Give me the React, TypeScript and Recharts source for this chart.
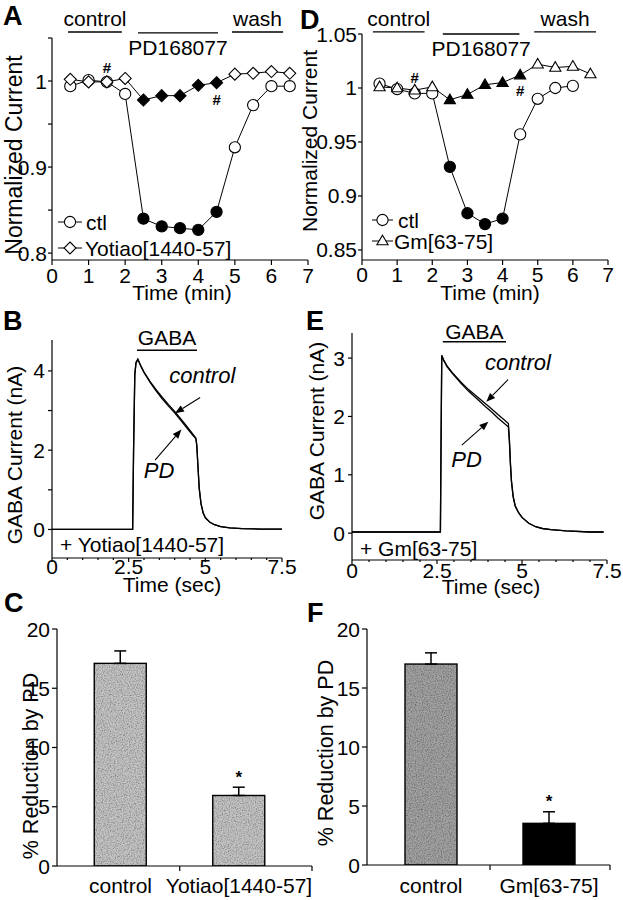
import React from 'react';
import {
  LineChart,
  Line,
  XAxis,
  YAxis,
  ReferenceLine,
  ReferenceDot,
  BarChart,
  Bar,
  ErrorBar,
  LabelList,
} from 'recharts';

const FONT = '"Liberation Sans", Arial, Helvetica, sans-serif';
const W = 623;
const H = 900;
const XH = 30;

// ---------- Panel A data ----------
const timeA = [0.5, 1, 1.5, 2, 2.5, 3, 3.5, 4, 4.5, 5, 5.5, 6, 6.5];
const ctlA = [0.994, 1.001, 0.999, 0.985, 0.84, 0.831, 0.829, 0.827, 0.848, 0.923, 0.972, 0.994, 0.994];
const ctlAFilled = [false, false, false, false, true, true, true, true, true, false, false, false, false];
const yotA = [1.002, 0.999, 0.999, 1.003, 0.978, 0.983, 0.983, 0.995, 0.998, 1.008, 1.009, 1.011, 1.009];
const yotAFilled = [false, false, false, false, true, true, true, true, true, false, false, false, false];
const periodsA = [
  { label: 'control', from: 0.44, to: 1.91, level: 1.057, text: 'above' },
  { label: 'PD168077', from: 2.35, to: 4.54, level: 1.056, text: 'below' },
  { label: 'wash', from: 4.92, to: 6.32, level: 1.057, text: 'above' },
];
const hashA = [
  { t: 1.5, v: 0.999, side: 'above' },
  { t: 4.5, v: 0.998, side: 'below' },
];

// ---------- Panel D data ----------
const timeD = [0.5, 1, 1.5, 2, 2.5, 3, 3.5, 4, 4.5, 5, 5.5, 6, 6.5];
const ctlD = [1.004, 0.999, 0.995, 0.995, 0.927, 0.884, 0.874, 0.879, 0.957, 0.99, 1.0, 1.002, null];
const ctlDFilled = [false, false, false, false, true, true, true, true, false, false, false, false, false];
const gmD = [1.001, 1.0, 0.998, 1.001, 0.989, 0.994, 1.003, 1.005, 1.012, 1.022, 1.019, 1.02, 1.013];
const gmDFilled = [false, false, false, false, true, true, true, true, true, false, false, false, false];
const periodsD = [
  { label: 'control', from: 0.31, to: 1.78, level: 1.052, text: 'above' },
  { label: 'PD168077', from: 2.3, to: 4.48, level: 1.05, text: 'below' },
  { label: 'wash', from: 4.9, to: 6.66, level: 1.052, text: 'above' },
];
const hashD = [
  { t: 1.5, v: 0.998, side: 'above' },
  { t: 4.5, v: 1.012, side: 'below' },
];

// ---------- Panel B data ----------
const timeB = [0, 2.63, 2.66, 2.7, 2.74, 2.8, 2.9, 3.0, 3.2, 3.4, 3.6, 3.8, 4.0, 4.2, 4.4, 4.6, 4.69, 4.72, 4.76, 4.8, 4.86, 4.93, 5.0, 5.15, 5.3, 5.5, 5.8, 6.2, 6.8, 7.5];
const ctlB = [0, 0, 2.0, 3.9, 4.2, 4.28, 4.12, 3.97, 3.73, 3.52, 3.33, 3.15, 2.98, 2.79, 2.6, 2.4, 2.31, 2.15, 1.6, 1.05, 0.65, 0.42, 0.3, 0.18, 0.12, 0.07, 0.04, 0.02, 0.01, 0.01];
const pdB = [0, 0, 2.0, 3.92, 4.22, 4.3, 4.12, 3.96, 3.71, 3.49, 3.29, 3.11, 2.94, 2.75, 2.56, 2.37, 2.29, 2.12, 1.58, 1.03, 0.64, 0.41, 0.29, 0.18, 0.12, 0.07, 0.04, 0.02, 0.01, 0.01];
const gabaB = { label: 'GABA', from: 2.77, to: 4.73, level: 4.52 };
const arrowsB = [
  { from: [4.83, 3.33], to: [4.01, 2.93] },
  { from: [3.36, 1.75], to: [4.22, 2.52] },
];
const notesB = [
  { label: 'control', t: 4.9, v: 3.69 },
  { label: 'PD', t: 3.49, v: 1.29 },
];

// ---------- Panel E data ----------
const timeE = [0, 2.6, 2.62, 2.64, 2.7, 2.8, 2.95, 3.2, 3.43, 3.7, 3.92, 4.1, 4.3, 4.5, 4.6, 4.63, 4.66, 4.69, 4.74, 4.8, 4.9, 5.0, 5.2, 5.4, 5.6, 5.85, 6.3, 7.0, 7.4];
const ctlE = [0.02, 0.02, 1.6, 3.04, 2.96, 2.86, 2.75, 2.59, 2.46, 2.33, 2.22, 2.13, 2.03, 1.93, 1.88, 1.6, 1.2, 0.9, 0.63, 0.47, 0.35, 0.27, 0.17, 0.11, 0.08, 0.06, 0.04, 0.02, 0.02];
const pdE = [0.02, 0.02, 1.6, 3.05, 2.96, 2.85, 2.74, 2.57, 2.43, 2.29, 2.17, 2.08, 1.97, 1.87, 1.82, 1.56, 1.17, 0.88, 0.62, 0.46, 0.35, 0.27, 0.17, 0.11, 0.08, 0.06, 0.04, 0.02, 0.02];
const gabaE = { label: 'GABA', from: 2.67, to: 4.53, level: 3.28 };
const arrowsE = [
  { from: [4.59, 2.63], to: [3.95, 2.25] },
  { from: [3.23, 1.51], to: [4.01, 1.91] },
];
const notesE = [
  { label: 'control', t: 4.88, v: 2.8 },
  { label: 'PD', t: 3.37, v: 1.14 },
];

// ---------- Panels C / F data ----------
const catsC = ['control', 'Yotiao[1440-57]'];
const valsC = [17.1, 5.95];
const errsC = [1.05, 0.7];
const starsC = ['', '*'];
const catsF = ['control', 'Gm[63-75]'];
const valsF = [17.03, 3.53];
const errsF = [0.95, 0.98];
const starsF = ['', '*'];

// ---------- layout ----------
type Plot = { l: number; r: number; t: number; b: number };
const PA: Plot = { l: 52, r: 308, t: 38, b: 260 };
const PD: Plot = { l: 362, r: 608, t: 34, b: 260 };
const PB: Plot = { l: 52, r: 282, t: 340, b: 558 };
const PE: Plot = { l: 352, r: 607, t: 333, b: 560 };
const PC: Plot = { l: 57, r: 312, t: 629, b: 866 };
const PF: Plot = { l: 367, r: 610, t: 629, b: 865 };

const marginFor = (P: Plot) => ({ top: P.t, right: W - P.r, bottom: H - P.b - XH, left: 0 });
const AX = { stroke: '#000', strokeWidth: 1.2 };

const xTick = (P: Plot, fs: number, base: number, len: (v: number) => number, fmt: (v: number) => string) =>
  (props: any) => {
    const { x, payload } = props;
    const v = payload.value;
    const L = len(v);
    return (
      <g>
        {L > 0 && <line x1={x} x2={x} y1={P.b} y2={P.b + L} stroke="#000" strokeWidth={1.2} />}
        <text x={x} y={P.b + base} textAnchor="middle" fontSize={fs} fill="#000">{fmt(v)}</text>
      </g>
    );
  };

const yTick = (P: Plot, fs: number, gap: number, len: (v: number) => number, fmt: (v: number) => string) =>
  (props: any) => {
    const { y, payload } = props;
    const v = payload.value;
    const L = len(v);
    return (
      <g>
        {L > 0 && <line x1={P.l - L} x2={P.l} y1={y} y2={y} stroke="#000" strokeWidth={1.2} />}
        <text x={P.l - gap} y={y} dominantBaseline="central" textAnchor="end" fontSize={fs} fill="#000">{fmt(v)}</text>
      </g>
    );
  };

// ---------- markers ----------
const circleMark = (cx: number, cy: number, filled: boolean, key?: any) => (
  <circle key={key} cx={cx} cy={cy} r={5.6} fill={filled ? '#000' : '#fff'} stroke="#000" strokeWidth={1.1} />
);
const diamondMark = (cx: number, cy: number, filled: boolean, key?: any) => (
  <polygon key={key} points={`${cx},${cy - 6} ${cx + 6},${cy} ${cx},${cy + 6} ${cx - 6},${cy}`} fill={filled ? '#000' : '#fff'} stroke="#000" strokeWidth={1.1} />
);
const triangleMark = (cx: number, cy: number, filled: boolean, key?: any) => (
  <polygon key={key} points={`${cx},${cy - 5.8} ${cx + 5.6},${cy + 3.8} ${cx - 5.6},${cy + 3.8}`} fill={filled ? '#000' : '#fff'} stroke="#000" strokeWidth={1.1} />
);

const dotFn = (mark: typeof circleMark, filled: boolean[]) => (props: any) => {
  const { cx, cy, index } = props;
  if (cx == null || cy == null || props.value == null) return <g key={`e${index}`} />;
  return mark(cx, cy, filled[index], `d${index}`);
};

// ---------- annotation shapes ----------
const periodShape = (label: string, where: string) => (p: any) => {
  const cx = (p.x1 + p.x2) / 2;
  return (
    <g>
      <line x1={p.x1} y1={p.y1} x2={p.x2} y2={p.y2} stroke="#000" strokeWidth={1.3} />
      <text x={cx} y={where === 'above' ? p.y1 - 6 : p.y1 + 22} textAnchor="middle" fontSize={21} fill="#000">
        {label}
      </text>
    </g>
  );
};

const gabaShape = (label: string, gap: number) => (p: any) => {
  const cx = (p.x1 + p.x2) / 2;
  return (
    <g>
      <line x1={p.x1} y1={p.y1} x2={p.x2} y2={p.y2} stroke="#000" strokeWidth={1.4} />
      <text x={cx} y={p.y1 - gap} textAnchor="middle" fontSize={21} fill="#000">{label}</text>
    </g>
  );
};

const arrowShape = (p: any) => {
  const { x1, y1, x2, y2 } = p;
  const ang = Math.atan2(y2 - y1, x2 - x1);
  const hl = 9;
  const hw = 3.6;
  const bx = x2 - hl * Math.cos(ang);
  const by = y2 - hl * Math.sin(ang);
  const px = -Math.sin(ang) * hw;
  const py = Math.cos(ang) * hw;
  return (
    <g>
      <line x1={x1} y1={y1} x2={bx} y2={by} stroke="#000" strokeWidth={1.1} />
      <polygon points={`${x2},${y2} ${bx + px},${by + py} ${bx - px},${by - py}`} fill="#000" />
    </g>
  );
};

const noteShape = (label: string) => (p: any) => (
  <text x={p.cx} y={p.cy} textAnchor="middle" fontSize={22} fontStyle="italic" fill="#000">{label}</text>
);

const hashShape = (side: string, up: number, down: number) => (p: any) => (
  <text x={p.cx} y={side === 'above' ? p.cy - up : p.cy + down} textAnchor="middle" dominantBaseline="central" fontSize={15} fontWeight="bold" fill="#000">#</text>
);

// ---------- Panel A ----------
const rowsA = timeA.map((t, i) => ({ t, ctl: ctlA[i], yot: yotA[i] }));
function PanelA() {
  return (
    <LineChart width={W} height={H} data={rowsA} margin={marginFor(PA)}>
      <XAxis type="number" dataKey="t" domain={[0, 7]} ticks={[0, 1, 2, 3, 4, 5, 6, 7]} interval={0} allowDataOverflow height={XH}
        axisLine={AX} tickLine={false} tickSize={0} tick={xTick(PA, 21, 22.5, () => 5, (v) => String(v))} />
      <YAxis type="number" domain={[0.792, 1.05]} ticks={[0.8, 0.85, 0.9, 0.95, 1, 1.05]} interval={0} allowDataOverflow width={PA.l}
        axisLine={AX} tickLine={false} tickSize={0}
        tick={yTick(PA, 21, 5, () => 4, (v) => ([0.8, 0.9, 1].includes(v) ? String(v) : ''))} />
      {periodsA.map((p, i) => (
        <ReferenceLine key={`pa${i}`} ifOverflow="visible" segment={[{ x: p.from, y: p.level }, { x: p.to, y: p.level }]}
          shape={periodShape(p.label, p.text)} />
      ))}
      <Line dataKey="ctl" stroke="#000" strokeWidth={1} isAnimationActive={false} dot={dotFn(circleMark, ctlAFilled)} activeDot={false} />
      <Line dataKey="yot" stroke="#000" strokeWidth={1} isAnimationActive={false} dot={dotFn(diamondMark, yotAFilled)} activeDot={false} />
      {hashA.map((h, i) => (
        <ReferenceDot key={`ha${i}`} x={h.t} y={h.v} r={0} ifOverflow="visible" shape={hashShape(h.side, 14, 17)} />
      ))}
    </LineChart>
  );
}

// ---------- Panel D ----------
const rowsD = timeD.map((t, i) => ({ t, ctl: ctlD[i], gm: gmD[i] }));
function PanelD() {
  return (
    <LineChart width={W} height={H} data={rowsD} margin={marginFor(PD)}>
      <XAxis type="number" dataKey="t" domain={[0, 7]} ticks={[0, 1, 2, 3, 4, 5, 6, 7]} interval={0} allowDataOverflow height={XH}
        axisLine={AX} tickLine={false} tickSize={0} tick={xTick(PD, 21, 22, () => 5, (v) => String(v))} />
      <YAxis type="number" domain={[0.8407, 1.05]} ticks={[0.85, 0.9, 0.95, 1, 1.05]} interval={0} allowDataOverflow width={PD.l}
        axisLine={AX} tickLine={false} tickSize={0} tick={yTick(PD, 21, 5, () => 4, (v) => String(v))} />
      {periodsD.map((p, i) => (
        <ReferenceLine key={`pd${i}`} ifOverflow="visible" segment={[{ x: p.from, y: p.level }, { x: p.to, y: p.level }]}
          shape={periodShape(p.label, p.text)} />
      ))}
      <Line dataKey="ctl" stroke="#000" strokeWidth={1} isAnimationActive={false} dot={dotFn(circleMark, ctlDFilled)} activeDot={false} />
      <Line dataKey="gm" stroke="#000" strokeWidth={1} isAnimationActive={false} dot={dotFn(triangleMark, gmDFilled)} activeDot={false} />
      {hashD.map((h, i) => (
        <ReferenceDot key={`hd${i}`} x={h.t} y={h.v} r={0} ifOverflow="visible" shape={hashShape(h.side, 13, 15)} />
      ))}
    </LineChart>
  );
}

// ---------- Trace panels ----------
function TracePanel(props: {
  P: Plot; time: number[]; ctl: number[]; pd: number[]; ydom: [number, number]; yticks: number[];
  ylab: (v: number) => string; gaba: { label: string; from: number; to: number; level: number }; gabaGap: number;
  arrows: { from: number[]; to: number[] }[]; notes: { label: string; t: number; v: number }[]; xbase: number;
}) {
  const { P } = props;
  const rows = props.time.map((t, i) => ({ t, ctl: props.ctl[i], pd: props.pd[i] }));
  const xt = [0, 0.5, 1, 1.5, 2, 2.5, 3, 3.5, 4, 4.5, 5, 5.5, 6, 6.5, 7, 7.5];
  return (
    <LineChart width={W} height={H} data={rows} margin={marginFor(P)}>
      <XAxis type="number" dataKey="t" domain={[0, 7.5]} ticks={xt} interval={0} allowDataOverflow height={XH}
        axisLine={AX} tickLine={false} tickSize={0}
        tick={xTick(P, 21, props.xbase, (v) => (v % 2.5 === 0 ? 4 : 2), (v) => (v % 2.5 === 0 ? String(v) : ''))} />
      <YAxis type="number" domain={props.ydom} ticks={props.yticks} interval={0} allowDataOverflow width={P.l}
        axisLine={AX} tickLine={false} tickSize={0} tick={yTick(P, 21, 7, () => 4, props.ylab)} />
      <ReferenceLine ifOverflow="visible" segment={[{ x: props.gaba.from, y: props.gaba.level }, { x: props.gaba.to, y: props.gaba.level }]}
        shape={gabaShape(props.gaba.label, props.gabaGap)} />
      <Line dataKey="ctl" stroke="#000" strokeWidth={1.3} isAnimationActive={false} dot={false} activeDot={false} />
      <Line dataKey="pd" stroke="#000" strokeWidth={1.3} isAnimationActive={false} dot={false} activeDot={false} />
      {props.arrows.map((a, i) => (
        <ReferenceLine key={`ar${i}`} ifOverflow="visible" segment={[{ x: a.from[0], y: a.from[1] }, { x: a.to[0], y: a.to[1] }]} shape={arrowShape} />
      ))}
      {props.notes.map((n, i) => (
        <ReferenceDot key={`nt${i}`} x={n.t} y={n.v} r={0} ifOverflow="visible" shape={noteShape(n.label)} />
      ))}
    </LineChart>
  );
}

// ---------- Bar panels ----------
function BarPanel(props: {
  id: string; P: Plot; cats: string[]; vals: number[]; errs: number[]; stars: string[]; fills: string[]; grain: boolean[];
  padL: number; padR: number; base: number;
}) {
  const { P } = props;
  const rows = props.cats.map((c, i) => ({ name: c, value: props.vals[i], err: [0, props.errs[i]], star: props.stars[i] }));
  const bw = (P.r - P.l - props.padL - props.padR) / props.cats.length;
  const catTick = (tp: any) => {
    const { x, payload, index } = tp;
    const bx = index === props.cats.length - 1 ? x + bw / 2 + props.padR : x + bw / 2;
    return (
      <g>
        <line x1={bx} x2={bx} y1={P.b} y2={P.b + 5} stroke="#000" strokeWidth={1.2} />
        <text x={x} y={P.b + props.base} textAnchor="middle" fontSize={21} fill="#000">{payload.value}</text>
      </g>
    );
  };
  const starLabel = (lp: any) => {
    const { x, y, width, height, index } = lp;
    const s = props.stars[index];
    if (!s) return <g />;
    const ppu = height / props.vals[index];
    const top = y - props.errs[index] * ppu;
    return (
      <text x={x + width / 2} y={top - 10} textAnchor="middle" dominantBaseline="central" fontSize={17} fontWeight="bold" fill="#000">{s}</text>
    );
  };
  const barShape = (bp: any) => {
    const { x, y, width, height, index } = bp;
    const fid = `grain-${props.id}-${index}`;
    return (
      <g>
        {props.grain[index] && (
          <defs>
            <filter id={fid} x="0" y="0" width="100%" height="100%">
              <feTurbulence type="fractalNoise" baseFrequency="0.85" numOctaves={2} seed={index + 3} result="n" />
              <feColorMatrix in="n" type="matrix"
                values="0 0 0 0 0  0 0 0 0 0  0 0 0 0 0  1.3 0 0 0 -0.5" result="a" />
              <feComposite in="a" in2="SourceGraphic" operator="in" result="speck" />
              <feMerge>
                <feMergeNode in="SourceGraphic" />
                <feMergeNode in="speck" />
              </feMerge>
            </filter>
          </defs>
        )}
        <rect x={x} y={y} width={width} height={height} fill={props.fills[index]}
          filter={props.grain[index] ? `url(#${fid})` : undefined} />
        <rect x={x} y={y} width={width} height={height} fill="none" stroke="#000" strokeWidth={1.4} />
      </g>
    );
  };
  return (
    <BarChart width={W} height={H} data={rows} margin={marginFor(P)}>
      <XAxis type="category" dataKey="name" height={XH} padding={{ left: props.padL, right: props.padR }} interval={0}
        axisLine={AX} tickLine={false} tickSize={0} tick={catTick} />
      <YAxis type="number" domain={[0, 20]} ticks={[0, 5, 10, 15, 20]} interval={0} allowDataOverflow width={P.l}
        axisLine={AX} tickLine={false} tickSize={0} tick={yTick(P, 21, 7, () => 5, (v) => String(v))} />
      <Bar dataKey="value" barSize={52} isAnimationActive={false} shape={barShape}>
        <ErrorBar dataKey="err" width={6} strokeWidth={1.5} stroke="#000" direction="y" />
        <LabelList dataKey="star" content={starLabel} />
      </Bar>
    </BarChart>
  );
}

const Layer = ({ children }: { children: React.ReactNode }) => (
  <div style={{ position: 'absolute', left: 0, top: 0, width: W, height: H }}>{children}</div>
);

function Overlay() {
  const letter = (x: number, y: number, s: string) => (
    <text x={x} y={y} fontSize={27} fontWeight="bold" fill="#000">{s}</text>
  );
  const vtitle = (cx: number, cy: number, s: string, fs: number) => (
    <text x={cx} y={cy} transform={`rotate(-90 ${cx} ${cy})`} textAnchor="middle" dominantBaseline="central" fontSize={fs} fill="#000">{s}</text>
  );
  const htitle = (cx: number, y: number, s: string) => (
    <text x={cx} y={y} textAnchor="middle" fontSize={21} fill="#000">{s}</text>
  );
  const legendRow = (x1: number, x2: number, y: number, mark: (cx: number, cy: number, f: boolean) => React.ReactNode, tx: number, s: string) => (
    <g>
      <line x1={x1} x2={x2} y1={y} y2={y} stroke="#000" strokeWidth={1} />
      {mark((x1 + x2) / 2, y, false)}
      <text x={tx} y={y} dominantBaseline="central" fontSize={21} fill="#000">{s}</text>
    </g>
  );
  return (
    <svg width={W} height={H} style={{ position: 'absolute', left: 0, top: 0 }}>
      {letter(3, 25, 'A')}
      {letter(300, 29, 'D')}
      {letter(3, 330, 'B')}
      {letter(306, 330, 'E')}
      {letter(4, 612, 'C')}
      {letter(307, 622, 'F')}
      {vtitle(14, 155, 'Normalized Current', 23)}
      {vtitle(309, 141, 'Normalized Current', 21)}
      {vtitle(14, 455, 'GABA Current (nA)', 21)}
      {vtitle(316, 431, 'GABA Current (nA)', 21)}
      {vtitle(31, 766, '% Reduction by PD', 21.5)}
      {vtitle(326, 753, '% Reduction by PD', 21.5)}
      {htitle(182, 300, 'Time (min)')}
      {htitle(490, 300, 'Time (min)')}
      {htitle(172, 592, 'Time (sec)')}
      {htitle(491, 594, 'Time (sec)')}
      {legendRow(58, 82, 222, circleMark, 86, 'ctl')}
      {legendRow(58, 82, 248, diamondMark, 85, 'Yotiao[1440-57]')}
      {legendRow(372, 393, 220, circleMark, 398, 'ctl')}
      {legendRow(372, 393, 241, triangleMark, 394, 'Gm[63-75]')}
      <text x={60} y={552} fontSize={21} fill="#000">+ Yotiao[1440-57]</text>
      <text x={360} y={556} fontSize={21} fill="#000">+ Gm[63-75]</text>
    </svg>
  );
}

export default function App() {
  return (
    <div style={{ position: 'absolute', left: 0, top: 0, width: W, height: H, background: '#fff', fontFamily: FONT, overflow: 'hidden' }}>
      <Layer><PanelA /></Layer>
      <Layer><PanelD /></Layer>
      <Layer>
        <TracePanel P={PB} time={timeB} ctl={ctlB} pd={pdB} ydom={[-0.72, 4.78]} yticks={[0, 1, 2, 3, 4]}
          ylab={(v) => (v % 2 === 0 ? String(v) : '')} gaba={gabaB} gabaGap={5} arrows={arrowsB} notes={notesB} xbase={16} />
      </Layer>
      <Layer>
        <TracePanel P={PE} time={timeE} ctl={ctlE} pd={pdE} ydom={[-0.46, 3.43]} yticks={[0, 1, 2, 3]}
          ylab={(v) => String(v)} gaba={gabaE} gabaGap={3} arrows={arrowsE} notes={notesE} xbase={18} />
      </Layer>
      <Layer>
        <BarPanel id="c" P={PC} cats={catsC} vals={valsC} errs={errsC} stars={starsC} fills={['#c4c4c4', '#c4c4c4']} grain={[true, true]}
          padL={4.25} padR={13.75} base={27} />
      </Layer>
      <Layer>
        <BarPanel id="f" P={PF} cats={catsF} vals={valsF} errs={errsF} stars={starsF} fills={['#a2a2a2', '#000000']} grain={[true, false]}
          padL={5} padR={2} base={28} />
      </Layer>
      <Overlay />
    </div>
  );
}
